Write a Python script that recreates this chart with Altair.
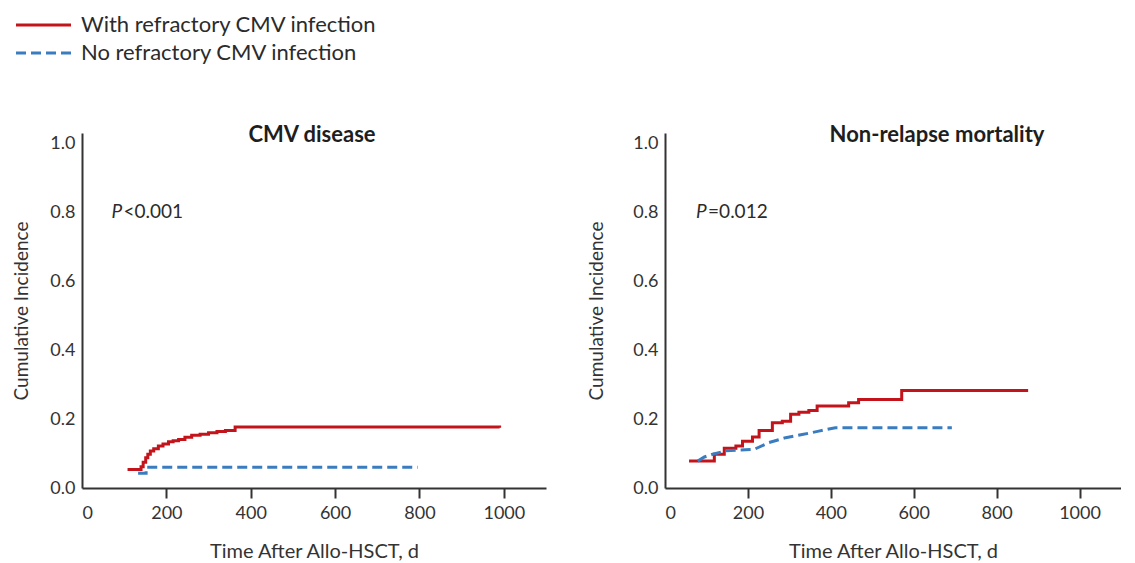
import altair as alt
import pandas as pd

# ---- data ----
series = ["With refractory CMV infection", "No refractory CMV infection"]
colors = ["#c3141b", "#3a7cc0"]

# CMV disease panel
cmv_red_t = [108, 134, 140, 145, 151, 156, 162, 170, 181, 192, 205, 216, 229, 244, 260, 280, 300, 320, 340, 363, 990]
cmv_red_ci = [0.054, 0.054, 0.062, 0.075, 0.088, 0.098, 0.107, 0.114, 0.122, 0.128, 0.134, 0.137, 0.141, 0.147,
              0.153, 0.156, 0.160, 0.164, 0.167, 0.177, 0.175]
cmv_blue_t = [133, 152, 796]
cmv_blue_ci = [0.043, 0.060, 0.060]

# Non-relapse mortality panel
nrm_red_t = [58, 103, 119, 143, 171, 187, 211, 227, 259, 283, 303, 323, 347, 367, 443, 467, 571, 876]
nrm_red_ci = [0.078, 0.078, 0.098, 0.115, 0.122, 0.136, 0.148, 0.167, 0.189, 0.194, 0.214, 0.220, 0.225,
              0.238, 0.247, 0.257, 0.283, 0.283]
nrm_blue_t = [79, 95, 115, 147, 215, 251, 291, 331, 371, 411, 692]
nrm_blue_ci = [0.078, 0.090, 0.098, 0.108, 0.112, 0.132, 0.146, 0.155, 0.165, 0.175, 0.175]

panel_titles = ["CMV disease", "Non-relapse mortality"]
p_values = ["<0.001", "=0.012"]
p_pos_t = [70, 75]
p_pos_ci = 0.8

x_ticks = [0, 200, 400, 600, 800, 1000]
y_ticks = [0.0, 0.2, 0.4, 0.6, 0.8, 1.0]

FONT = "Lato"
TXT = "#2b2b2b"
H = 355


def panel(red_t, red_ci, blue_t, blue_ci, title, pval, pt, width, title_x, blue_interp, ytitle_x):
    red = pd.DataFrame({"t": red_t, "ci": red_ci})
    blue = pd.DataFrame({"t": blue_t, "ci": blue_ci})
    xenc = alt.X("t:Q", scale=alt.Scale(domain=[0, 1100], nice=False),
                 axis=alt.Axis(values=x_ticks, format="d", title="Time After Allo-HSCT, d", titlePadding=19,
                               tickColor={"condition": {"test": "datum.value === 0", "value": "transparent"},
                                          "value": "#333"}))
    yenc = alt.Y("ci:Q", scale=alt.Scale(domain=[0, 1.03], nice=False),
                 axis=alt.Axis(values=y_ticks, format=".1f", title="Cumulative Incidence",
                               titleX=ytitle_x, titleY=H / 2, titleBaseline="middle", titleAngle=270))
    l_red = alt.Chart(red).mark_line(color=colors[0], strokeWidth=3, interpolate="step-after").encode(x=xenc, y=yenc)
    l_blue = alt.Chart(blue).mark_line(color=colors[1], strokeWidth=3, strokeDash=[10, 5],
                                       interpolate=blue_interp).encode(x="t:Q", y="ci:Q")
    pdf = pd.DataFrame({"t": [pt], "ci": [p_pos_ci], "p": ["P"], "v": [pval]})
    p1 = alt.Chart(pdf).mark_text(align="left", baseline="middle", fontStyle="italic", fontSize=19,
                                  font=FONT, color=TXT).encode(x="t:Q", y="ci:Q", text="p:N")
    p2 = alt.Chart(pdf).mark_text(align="left", baseline="middle", dx=12, fontSize=19,
                                  font=FONT, color=TXT).encode(x="t:Q", y="ci:Q", text="v:N")
    tdf = pd.DataFrame({"title": [title]})
    ttl = alt.Chart(tdf).mark_text(align="center", baseline="middle", fontSize=22, fontWeight="bold",
                                   font=FONT, color="#1e1e1e").encode(
        text="title:N", x=alt.value(title_x), y=alt.value(2))
    return alt.layer(l_red, l_blue, p1, p2, ttl).properties(width=width, height=H)


left = panel(cmv_red_t, cmv_red_ci, cmv_blue_t, cmv_blue_ci, panel_titles[0], p_values[0], p_pos_t[0],
             464, 230, "step-after", -61)
right = panel(nrm_red_t, nrm_red_ci, nrm_blue_t, nrm_blue_ci, panel_titles[1], p_values[1], p_pos_t[1],
              456, 272, "linear", -69)

leg = pd.DataFrame({"series": series})
ysc = alt.Y("series:N", sort=series, axis=None,
            scale=alt.Scale(type="point", domain=series, range=[17, 45], padding=0))
leg_red = alt.Chart(leg).transform_filter(alt.datum.series == series[0]).mark_rule(
    color=colors[0], strokeWidth=3).encode(x=alt.value(-66), x2=alt.value(-11), y=ysc)
leg_blue = alt.Chart(leg).transform_filter(alt.datum.series == series[1]).mark_rule(
    color=colors[1], strokeWidth=3, strokeDash=[10, 5]).encode(x=alt.value(-66), x2=alt.value(-11), y=ysc)
leg_txt = alt.Chart(leg).mark_text(align="left", baseline="middle", fontSize=22, font=FONT,
                                   color=TXT).encode(x=alt.value(-1), y=ysc, text="series:N")
legend = alt.layer(leg_red, leg_blue, leg_txt).properties(width=400, height=60)

chart = alt.vconcat(legend, alt.hconcat(left, right, spacing=41), spacing=56).properties(
    padding={"left": 4, "top": 0, "right": 0, "bottom": 0}
).configure_view(stroke=None).configure_axis(
    grid=False, domainColor="#333", domainWidth=2, tickColor="#333", tickWidth=2,
    labelFont=FONT, labelFontSize=18, labelColor="#333", titleFont=FONT, titleFontSize=20,
    titleFontWeight="normal", titleColor="#333"
).configure_axisX(tickSize=10, labelPadding=6).configure_axisY(ticks=False, tickSize=0, labelPadding=7,
                                                                titleFontSize=19)

chart.save("out.html", embed_options={"renderer": "svg", "actions": False})
